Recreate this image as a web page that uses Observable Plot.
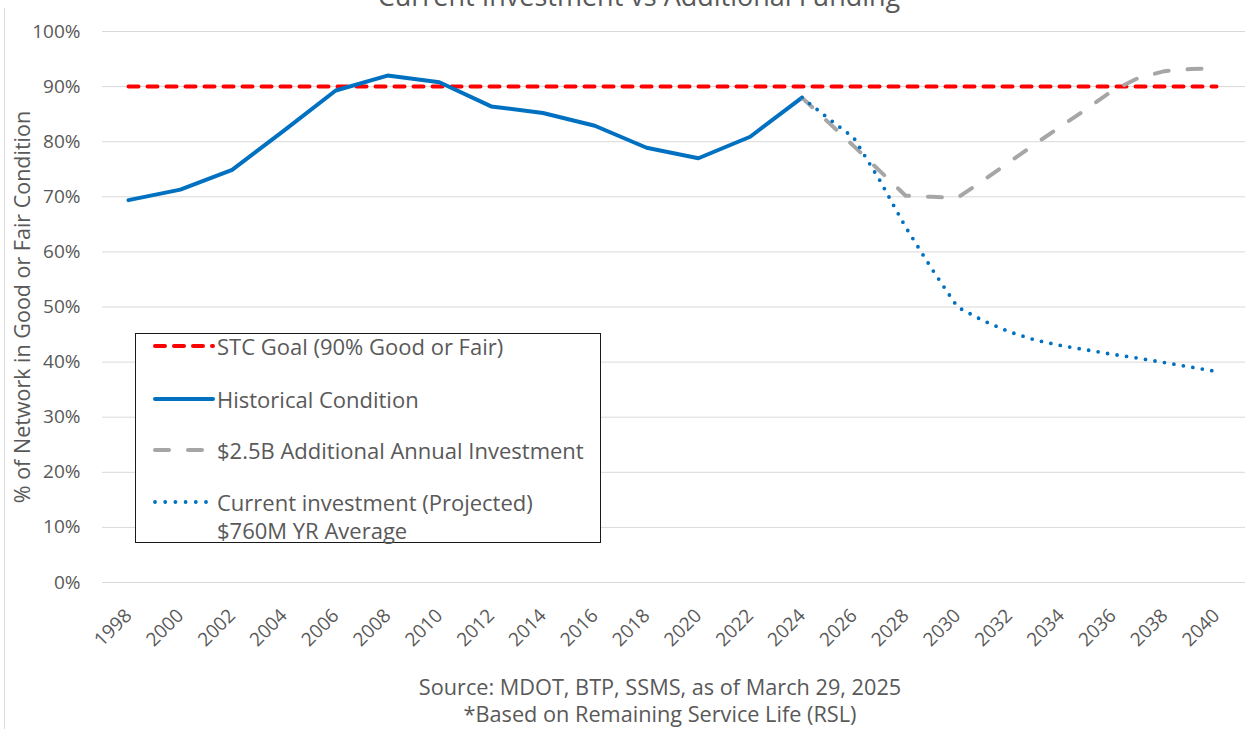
<!DOCTYPE html>
<html>
<head>
<meta charset="utf-8">
<script src="https://cdn.jsdelivr.net/npm/d3@7"></script>
<script src="https://cdn.jsdelivr.net/npm/@observablehq/plot@0.6"></script>
<style>
  html, body { margin: 0; padding: 0; background: #fff; }
  #wrap { position: relative; width: 1249px; height: 729px; overflow: hidden; background: #fff;
          font-family: "Open Sans", "Liberation Sans", sans-serif; color: #595959; }
  #chart { position: absolute; left: 0; top: 0; }
  .abs { position: absolute; white-space: nowrap; }
  #legend { position: absolute; left: 135px; top: 333px; width: 466px; height: 210px;
            border: 1px solid #1a1a1a; box-sizing: border-box; background: #fff; }
  .ltext { position: absolute; left: 81px; font-size: 22px; line-height: 26px; white-space: nowrap; color: #595959; }
  .lsample { position: absolute; left: 16px; }
</style>
</head>
<body>
<div id="wrap">
  <div class="abs" style="left:639px; top:-19px; transform:translateX(-50%); font-size:27px; line-height:30px;">Current Investment vs Additional Funding</div>
  <div class="abs" style="left:4px; top:8px; width:1px; height:721px; background:#d9d9d9;"></div>
  <div id="chart"></div>
  <div class="abs" id="ytitle" style="left:22px; top:307px; transform:translate(-50%,-50%) rotate(-90deg); font-size:21.5px; line-height:24px;">% of Network in Good or Fair Condition</div>
  <div id="legend"></div>
  <div class="abs" id="caption" style="left:660px; top:673px; transform:translateX(-50%); font-size:21.7px; line-height:27px; text-align:center;"><span id="cap1"></span><br><span id="cap2"></span></div>
</div>
<script>
// ---- data ----
const histYears = [1998, 2000, 2002, 2004, 2006, 2008, 2010, 2012, 2014, 2016, 2018, 2020, 2022, 2024];
const histValues = [69.4, 71.3, 74.9, 82.0, 89.3, 92.0, 90.8, 86.4, 85.2, 82.9, 78.9, 77.0, 80.9, 88.0];
const projYears = [2024, 2025, 2026, 2027, 2028, 2029, 2030, 2031, 2032, 2033, 2034, 2035, 2036, 2037, 2038, 2039, 2040];
const additionalValues = [88.0, 83.6, 79.2, 74.7, 70.2, 70.0, 69.8, 73.0, 76.3, 79.6, 82.8, 86.0, 89.3, 91.6, 92.8, 93.2, 93.3];
const currentValues = [88.0, 84.3, 80.7, 73.0, 64.5, 57.0, 50.0, 47.5, 45.5, 44.0, 43.0, 42.2, 41.4, 40.7, 39.9, 39.1, 38.3];
const goalYears = [1998, 2040];
const goalValue = 90;
const xTickYears = [1998, 2000, 2002, 2004, 2006, 2008, 2010, 2012, 2014, 2016, 2018, 2020, 2022, 2024, 2026, 2028, 2030, 2032, 2034, 2036, 2038, 2040];
const yTicks = [0, 10, 20, 30, 40, 50, 60, 70, 80, 90, 100];
const legendLabels = ["STC Goal (90% Good or Fair)", "Historical Condition", "$2.5B Additional Annual Investment", "Current investment (Projected)", "$760M YR Average"];
const captionLines = ["Source: MDOT, BTP, SSMS, as of March 29, 2025", "*Based on Remaining Service Life (RSL)"];

const BLUE = "#0070C0", RED = "#FF0000", GRAY = "#A6A6A6";

const hist = histYears.map((year, i) => ({year, value: histValues[i]}));
const additional = projYears.map((year, i) => ({year, value: additionalValues[i]}));
const current = projYears.map((year, i) => ({year, value: currentValues[i]}));
const goal = goalYears.map(year => ({year, value: goalValue}));

const chart = Plot.plot({
  width: 1249,
  height: 660,
  marginTop: 31,
  marginBottom: 78,
  marginLeft: 102,
  marginRight: 4,
  x: {domain: [1996.996, 2041.12], label: null},
  y: {domain: [0, 100], label: null},
  style: {fontFamily: '"Open Sans", "Liberation Sans", sans-serif', fontSize: "19px", color: "#595959", background: "transparent", overflow: "visible"},
  marks: [
    Plot.gridY(yTicks, {stroke: "#d9d9d9", strokeOpacity: 1, strokeWidth: 1}),
    Plot.axisY(yTicks, {tickSize: 0, tickPadding: 22, tickFormat: d => d + "%", fontSize: 19, label: null}),
    Plot.axisX(xTickYears, {tickSize: 0, tickRotate: -45, tickPadding: 30, tickFormat: d => String(d), fontSize: 19, label: null}),
    Plot.line(goal, {x: "year", y: "value", stroke: RED, strokeWidth: 4, strokeDasharray: "10,9", strokeLinecap: "round"}),
    Plot.line(hist, {x: "year", y: "value", stroke: BLUE, strokeWidth: 4, strokeLinejoin: "round", strokeLinecap: "round"}),
    Plot.line(additional, {x: "year", y: "value", stroke: GRAY, strokeWidth: 4, strokeDasharray: "14,19", strokeLinecap: "round"}),
    Plot.line(current, {x: "year", y: "value", stroke: BLUE, strokeWidth: 3.8, strokeDasharray: "0,9.6", strokeLinecap: "round"})
  ]
});
document.getElementById("chart").appendChild(chart);
document.getElementById("cap1").textContent = captionLines[0];
document.getElementById("cap2").textContent = captionLines[1];

// ---- legend ----
const legend = document.getElementById("legend");
const rows = [
  {label: legendLabels[0], cy: 12, stroke: RED, dash: "10,9", w: 4},
  {label: legendLabels[1], cy: 65, stroke: BLUE, dash: null, w: 4},
  {label: legendLabels[2], cy: 116, stroke: GRAY, dash: "14,19", w: 4},
  {label: legendLabels[3], cy: 168, stroke: BLUE, dash: "0,10.2", w: 3.8}
];
rows.forEach(r => {
  const s = d3.create("svg").attr("class", "lsample").attr("width", 64).attr("height", 10)
    .style("top", (r.cy - 5) + "px");
  s.append("line").attr("x1", 3).attr("x2", 61).attr("y1", 5).attr("y2", 5)
    .attr("stroke", r.stroke).attr("stroke-width", r.w)
    .attr("stroke-dasharray", r.dash).attr("stroke-linecap", "round");
  legend.appendChild(s.node());
  const t = document.createElement("div");
  t.className = "ltext";
  t.style.top = (r.cy - 13) + "px";
  t.textContent = r.label;
  legend.appendChild(t);
});
const t2 = document.createElement("div");
t2.className = "ltext";
t2.style.top = (196 - 13) + "px";
t2.textContent = legendLabels[4];
legend.appendChild(t2);
</script>
</body>
</html>
